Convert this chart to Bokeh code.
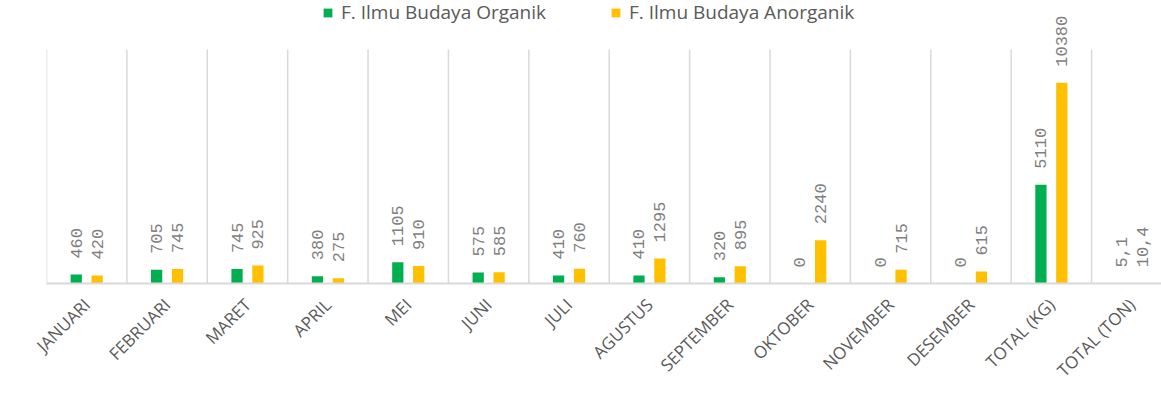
import math
from bokeh.plotting import figure
from bokeh.models import (ColumnDataSource, Range1d, FixedTicker, Label, Legend, LegendItem)
from bokeh.transform import dodge
from bokeh.embed import file_html
from bokeh.resources import INLINE

categories = ["JANUARI", "FEBRUARI", "MARET", "APRIL", "MEI", "JUNI", "JULI", "AGUSTUS",
              "SEPTEMBER", "OKTOBER", "NOVEMBER", "DESEMBER", "TOTAL (KG)", "TOTAL (TON)"]
organik = [460, 705, 745, 380, 1105, 575, 410, 410, 320, 0, 0, 0, 5110, 5.1]
anorganik = [420, 745, 925, 275, 910, 585, 760, 1295, 895, 2240, 715, 615, 10380, 10.4]
series_names = ["F. Ilmu Budaya Organik", "F. Ilmu Budaya Anorganik"]
colors = ["#00b050", "#ffc000"]
axis_max = 12100


def fmt(v):
    return str(v).replace(".", ",")


xs = [i + 0.5 for i in range(len(categories))]
bounds = list(range(len(categories) + 1))
src = ColumnDataSource(dict(x=xs, org=organik, anorg=anorganik))

H, BOTTOM, TOP_GAP = 416, 133, 49
frame_h = H - BOTTOM
y_end = axis_max * frame_h / (frame_h - TOP_GAP)

p = figure(width=1161, height=H, output_backend="svg", toolbar_location=None,
           x_range=Range1d(0, 13.87), y_range=Range1d(0, y_end),
           min_border_left=46, min_border_right=0, min_border_top=0, min_border_bottom=BOTTOM)
p.outline_line_color = None
p.background_fill_color = "white"
p.xgrid.grid_line_color = None
p.ygrid.grid_line_color = None

# category separators (plot-area gridlines)
p.segment(x0=bounds, y0=[0] * len(bounds), x1=bounds, y1=[axis_max] * len(bounds),
          line_color="#d9d9d9", line_width=1.5)

off = 0.13
bw = 0.14
r1 = p.vbar(x=dodge("x", -off), top="org", width=bw, source=src, color=colors[0], line_color=None)
r2 = p.vbar(x=dodge("x", off), top="anorg", width=bw, source=src, color=colors[1], line_color=None)

for vals, o in [(organik, -off), (anorganik, off)]:
    for xc, v in zip(xs, vals):
        p.add_layout(Label(x=xc + o, y=v, text=fmt(v), angle=math.pi / 2,
                           text_align="left", text_baseline="middle", y_offset=16,
                           text_font="Liberation Mono", text_font_size="17px",
                           text_color="#7f7f7f"))

p.yaxis.visible = False
p.xaxis.ticker = FixedTicker(ticks=xs)
p.xaxis.major_label_overrides = {x: c for x, c in zip(xs, categories)}
p.xaxis.major_label_orientation = math.pi / 4
p.xaxis.major_label_text_font = "Open Sans"
p.xaxis.major_label_text_font_size = "17px"
p.xaxis.major_label_text_color = "#595959"
p.xaxis.major_label_standoff = 12
p.xaxis.major_tick_line_color = None
p.xaxis.minor_tick_line_color = None
p.xaxis.axis_line_color = "#d9d9d9"
p.xaxis.axis_line_width = 2

legend = Legend(items=[LegendItem(label=series_names[0], renderers=[r1]),
                       LegendItem(label=series_names[1], renderers=[r2])],
                orientation="horizontal", location=(276, 258),
                label_text_font="Open Sans", label_text_font_size="19px",
                label_text_color="#595959", glyph_width=11, glyph_height=11,
                spacing=64, label_standoff=8, padding=0, margin=0,
                border_line_color=None, background_fill_alpha=0)
p.add_layout(legend, "center")

open("out.html", "w").write(file_html(p, INLINE))
